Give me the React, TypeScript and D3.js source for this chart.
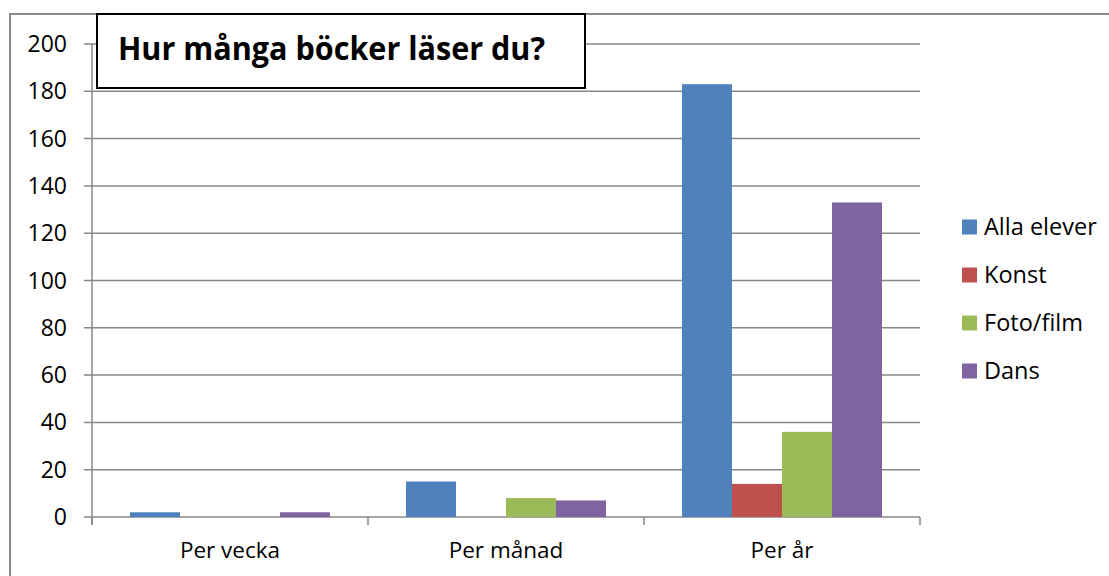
import React from "react";
import * as d3 from "d3";

const categories = ["Per vecka", "Per månad", "Per år"];
const seriesNames = ["Alla elever", "Konst", "Foto/film", "Dans"];
const allaElever = [2, 15, 183];
const konst = [0, 0, 14];
const fotoFilm = [0, 8, 36];
const dans = [2, 7, 133];
const yTicks = [0, 20, 40, 60, 80, 100, 120, 140, 160, 180, 200];
const colors = ["#4F81BD", "#C0504D", "#9BBB59", "#8064A2"];
const title = "Hur många böcker läser du?";

const W = 1109;
const H = 576;
const FONT = "'Open Sans', 'Noto Sans', sans-serif";

export default function App() {
  const series = [allaElever, konst, fotoFilm, dans];
  const x0 = d3.scaleBand<string>().domain(categories).range([92, 920]).paddingInner(0).paddingOuter(0);
  const x1 = d3
    .scaleBand<string>()
    .domain(seriesNames)
    .range([38, x0.bandwidth() - 38])
    .padding(0);
  const y = d3.scaleLinear().domain([0, 200]).range([517, 44]);
  const grid = "#878787";

  return (
    <div style={{ position: "fixed", left: 0, top: 0, width: W, height: H, background: "#fff" }}>
      <svg width={W} height={H} style={{ display: "block" }} fontFamily={FONT}>
        <rect x={0} y={0} width={W} height={H} fill="#fff" />
        {/* outer chart border */}
        <rect x={10} y={14} width={W + 20} height={H + 20} fill="none" stroke="#8c8c8c" strokeWidth={2} />
        {/* gridlines */}
        {yTicks.map((t) => (
          <line key={"g" + t} x1={84} x2={920} y1={y(t)} y2={y(t)} stroke={grid} strokeWidth={1.5} />
        ))}
        {/* y axis */}
        <line x1={92} x2={92} y1={y(200)} y2={525} stroke={grid} strokeWidth={1.5} />
        {/* x ticks */}
        {[...categories.map((c) => x0(c) as number), 920].map((v, i) => (
          <line key={"xt" + i} x1={v} x2={v} y1={517} y2={525} stroke={grid} strokeWidth={1.5} />
        ))}
        {/* y labels */}
        {yTicks.map((t) => (
          <text key={"yl" + t} x={67} y={y(t) + 8} textAnchor="end" fontSize={23} fill="#000">
            {t}
          </text>
        ))}
        {/* bars */}
        {categories.map((c, ci) =>
          seriesNames.map((s, si) => {
            const v = series[si][ci];
            if (!v) return null;
            return (
              <rect
                key={c + s}
                x={(x0(c) as number) + (x1(s) as number)}
                y={y(v)}
                width={x1.bandwidth()}
                height={y(0) - y(v)}
                fill={colors[si]}
              />
            );
          })
        )}
        {/* category labels */}
        {categories.map((c) => (
          <text key={"cl" + c} x={(x0(c) as number) + x0.bandwidth() / 2} y={558} textAnchor="middle" fontSize={22.5} fill="#000">
            {c}
          </text>
        ))}
        {/* legend */}
        {seriesNames.map((s, i) => (
          <g key={"lg" + s} transform={`translate(962, ${227 + i * 48})`}>
            <rect x={0} y={-7.5} width={15} height={15} fill={colors[i]} />
            <text x={22} y={8} fontSize={23.5} fill="#000">
              {s}
            </text>
          </g>
        ))}
        {/* title box */}
        <rect x={97} y={14} width={488} height={74} fill="#fff" stroke="#000" strokeWidth={2} />
        <text x={118} y={60} fontSize={32} fontWeight="bold" fill="#000" textLength={427} lengthAdjust="spacingAndGlyphs">
          {title}
        </text>
      </svg>
    </div>
  );
}
